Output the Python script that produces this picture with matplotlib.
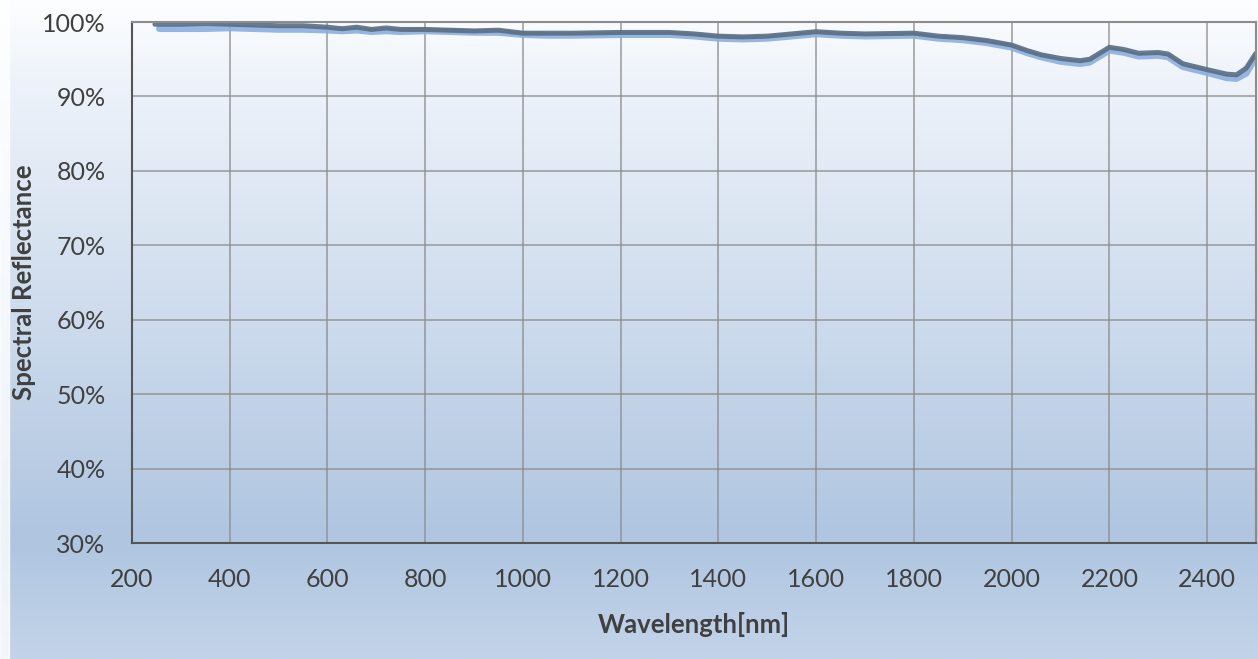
import numpy as np
import matplotlib.pyplot as plt
from matplotlib.colors import LinearSegmentedColormap
from matplotlib.ticker import FuncFormatter

plt.rcParams['font.family'] = ['Lato', 'DejaVu Sans']

# measured curve (dark) and reference curve (light blue), % reflectance
wl_dark = [247, 300, 350, 400, 450, 500, 550, 600, 630, 660, 690, 720, 750, 800, 850, 900, 950,
           1000, 1050, 1100, 1200, 1300, 1350, 1400, 1450, 1500, 1550, 1600, 1650, 1700, 1800,
           1850, 1900, 1950, 2000, 2030, 2060, 2100, 2140, 2160, 2200, 2230, 2260, 2300, 2320,
           2350, 2400, 2440, 2460, 2480, 2500]
r_dark = [99.7, 99.7, 99.8, 99.7, 99.6, 99.5, 99.5, 99.3, 99.1, 99.3, 99.0, 99.2, 99.0, 99.0,
          98.9, 98.8, 98.9, 98.5, 98.5, 98.5, 98.6, 98.6, 98.4, 98.1, 98.0, 98.1, 98.4, 98.7,
          98.5, 98.4, 98.5, 98.1, 97.9, 97.5, 96.9, 96.2, 95.6, 95.1, 94.8, 95.0, 96.6, 96.3,
          95.8, 95.9, 95.7, 94.4, 93.6, 93.0, 92.9, 93.8, 95.8]

wl_light = [256, 300, 350, 400, 450, 500, 550, 600, 630, 660, 690, 720, 750, 800, 850, 900, 950,
            1000, 1050, 1100, 1200, 1300, 1350, 1400, 1450, 1500, 1550, 1600, 1650, 1700, 1800,
            1850, 1900, 1950, 2000, 2030, 2060, 2100, 2140, 2160, 2200, 2230, 2260, 2300, 2320,
            2350, 2400, 2440, 2460, 2480, 2500]
r_light = [99.1, 99.1, 99.1, 99.2, 99.1, 99.0, 99.0, 98.9, 98.8, 98.9, 98.7, 98.8, 98.7, 98.8,
           98.7, 98.6, 98.6, 98.3, 98.2, 98.2, 98.3, 98.3, 98.1, 97.8, 97.7, 97.8, 98.1, 98.4,
           98.2, 98.1, 98.2, 97.8, 97.6, 97.2, 96.6, 95.9, 95.3, 94.7, 94.4, 94.6, 96.2, 95.9,
           95.4, 95.5, 95.3, 94.0, 93.2, 92.5, 92.4, 93.1, 95.3]

xticks = list(range(200, 2401, 200))
yticks = list(range(30, 101, 10))

fig = plt.figure(figsize=(12.58, 6.59), dpi=100)

# background gradient over whole figure
bg = fig.add_axes([0, 0, 1, 1], zorder=-10)
cmap = LinearSegmentedColormap.from_list('bg', [(0.0, '#fdfeff'), (0.12, '#eef3fa'),
                                                (0.82, '#afc5e0'), (1.0, '#c3d4e9')])
grad = np.linspace(0, 1, 256).reshape(-1, 1)
bg.imshow(grad, aspect='auto', cmap=cmap, extent=[0, 1, 1, 0])
bg.axvspan(0, 0.007, color='white', alpha=0.8)
bg.set_xlim(0, 1)
bg.set_ylim(1, 0)
bg.axis('off')

ax = fig.add_axes([0.1049, 0.176, 0.8935, 0.7906])
ax.patch.set_alpha(0)

ax.plot(wl_light, r_light, color='#8aafdf', lw=4.8, alpha=0.9, solid_capstyle='round')
ax.plot(wl_dark, r_dark, color='#5a6d82', lw=3.6, alpha=0.9, solid_capstyle='round')

ax.set_xlim(200, 2500)
ax.set_ylim(30, 100)
ax.set_xticks(xticks)
ax.set_yticks(yticks)
ax.yaxis.set_major_formatter(FuncFormatter(lambda v, p: f'{v:.0f}%'))
ax.grid(True, color='#8c8c8c', lw=1.2, alpha=0.8)
ax.tick_params(axis='y', length=0, labelsize=18, colors='#404040', pad=19)
ax.tick_params(axis='x', length=0, labelsize=18, colors='#404040', pad=18)
for side in ['top', 'right']:
    ax.spines[side].set_color('#8c8c8c')
    ax.spines[side].set_linewidth(1.5)
for side in ['left', 'bottom']:
    ax.spines[side].set_color('#555555')
    ax.spines[side].set_linewidth(1.5)

ax.set_xlabel('Wavelength[nm]', fontsize=18.5, fontweight='bold', color='#404040', labelpad=15)
ax.set_ylabel('Spectral Reflectance', fontsize=18.5, fontweight='bold', color='#404040', labelpad=4)

fig.savefig('out.png', dpi=100)
